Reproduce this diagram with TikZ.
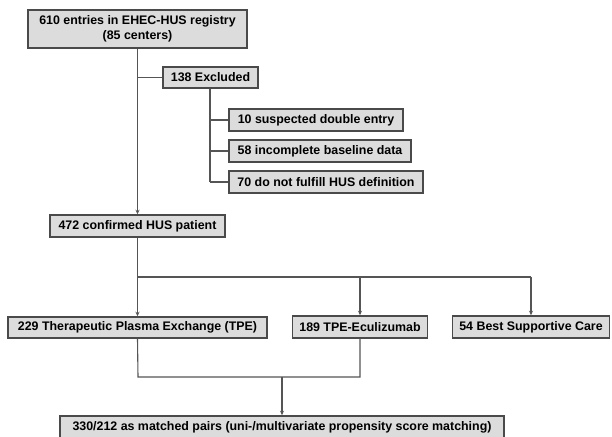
\documentclass[tikz,border=0pt]{standalone}
\usepackage{fontspec}
\setmainfont{Liberation Sans}
\usetikzlibrary{arrows.meta}
\definecolor{boxfill}{HTML}{DCDCDC}
\definecolor{boxline}{HTML}{4A4A4A}
\definecolor{connline}{HTML}{555555}
\begin{document}
\begin{tikzpicture}[x=1pt,y=-1pt,
  box/.style={draw=boxline,fill=boxfill,line width=1.5pt,inner sep=0pt,
    minimum height=22pt,font=\fontsize{12.4}{14.5}\selectfont\bfseries,align=center},
  conn/.style={draw=connline,line width=1.1pt},
  arr/.style={conn,-{Stealth[length=4.5pt,width=4pt]}}]
\useasboundingbox (0,0) rectangle (612,436);
\fill[white] (0,0) rectangle (612,436);
\node[box,minimum width=219pt,minimum height=38pt] (reg) at (137.5,29) {610 entries in EHEC-HUS registry\\(85 centers)};
\node[box,minimum width=95pt,minimum height=21pt] (excl) at (210.5,77.5) {138 Excluded};
\node[box,minimum width=174pt] (dbl) at (316,120) {10 suspected double entry};
\node[box,minimum width=182pt] (inc) at (320,151) {58 incomplete baseline data};
\node[box,minimum width=194pt] (def) at (326,182) {70 do not fulfill HUS definition};
\node[box,minimum width=175pt] (hus) at (137.5,226) {472 confirmed HUS patient};
\node[box,minimum width=259pt,minimum height=21pt] (tpe) at (137.5,327.5) {229 Therapeutic Plasma Exchange (TPE)};
\node[box,minimum width=135pt] (ecu) at (360,327) {189 TPE-Eculizumab};
\node[box,minimum width=157pt] (bsc) at (531,327) {54 Best Supportive Care};
\node[box,minimum width=444pt] (match) at (282,427) {330/212 as matched pairs (uni-/multivariate propensity score matching)};
% connectors
\coordinate (mainx) at (138,77.5);
\draw[arr] (reg.south) -- (hus.north);
\draw[conn] (mainx) -- (excl.west);
\coordinate (extop) at (210,88);
\coordinate (exbot) at (210,182);
\draw[conn] (excl.south -| extop) -- (exbot);
\draw[conn] (dbl.west -| extop) -- (dbl.west);
\draw[conn] (inc.west -| extop) -- (inc.west);
\draw[conn] (exbot) -- (def.west);
\coordinate (split) at (138,277);
\draw[arr] (hus.south) -- (tpe.north);
\draw[conn] (split) -- (split -| bsc.north);
\draw[arr] (split -| ecu.north) -- (ecu.north);
\draw[arr] (split -| bsc.north) -- (bsc.north);
\coordinate (joinl) at (138,377);
\coordinate (joinm) at (282,377);
\draw[conn] (tpe.south) -- (joinl) -- (joinl -| ecu.south) -- (ecu.south);
\draw[arr] (joinm) -- (match.north);
\end{tikzpicture}
\end{document}
